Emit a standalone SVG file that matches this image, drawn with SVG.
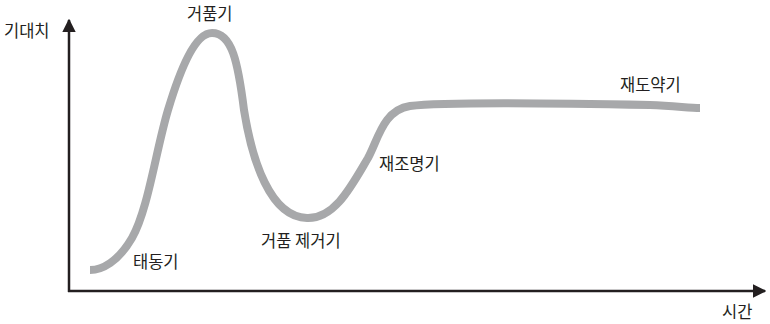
<svg xmlns="http://www.w3.org/2000/svg" width="770" height="324" viewBox="0 0 770 324">
<style>
.lbl{font-family:"Noto Sans CJK KR","Noto Sans",sans-serif;font-size:16.5px;fill:#231f20}
.axis{stroke:#231f20;stroke-width:2.5;fill:none}
.curve{stroke:#a7a8aa;stroke-width:8;fill:none;stroke-linecap:butt;stroke-linejoin:round}
</style>
<defs>
<marker id="ah" viewBox="0 0 10 10" refX="9" refY="5" markerWidth="5.5" markerHeight="5.5" orient="auto" markerUnits="strokeWidth">
<path d="M0,0 L10,5 L0,10 z" fill="#231f20"/>
</marker>
</defs>
<g id="connectors">
<path class="axis" d="M69,292 L69,20" marker-end="url(#ah)"/>
<path class="axis" d="M68,291 L765,291" marker-end="url(#ah)"/>
<path id="curve" class="curve" d="M90,270 C102,270 118,262 132,238 C148,210 156,150 168,110 C180,70 195,33 212,33 C232,33 238,62 244,110 C252,160 270,217 307,218 C335,219 352,185 368,158 C378,140 383,110 410,106 C450,101 600,104 650,105 C675,106 690,108 700,108"/>
</g>
<g id="n-yaxis"><text class="lbl" x="4" y="37">기대치</text></g>
<g id="n-peak"><text class="lbl" x="187" y="20">거품기</text></g>
<g id="n-trigger"><text class="lbl" x="133" y="268">태동기</text></g>
<g id="n-trough"><text class="lbl" x="261" y="247">거품 제거기</text></g>
<g id="n-slope"><text class="lbl" x="379" y="170">재조명기</text></g>
<g id="n-plateau"><text class="lbl" x="620" y="91">재도약기</text></g>
<g id="n-xaxis"><text class="lbl" x="722" y="318">시간</text></g>
</svg>
